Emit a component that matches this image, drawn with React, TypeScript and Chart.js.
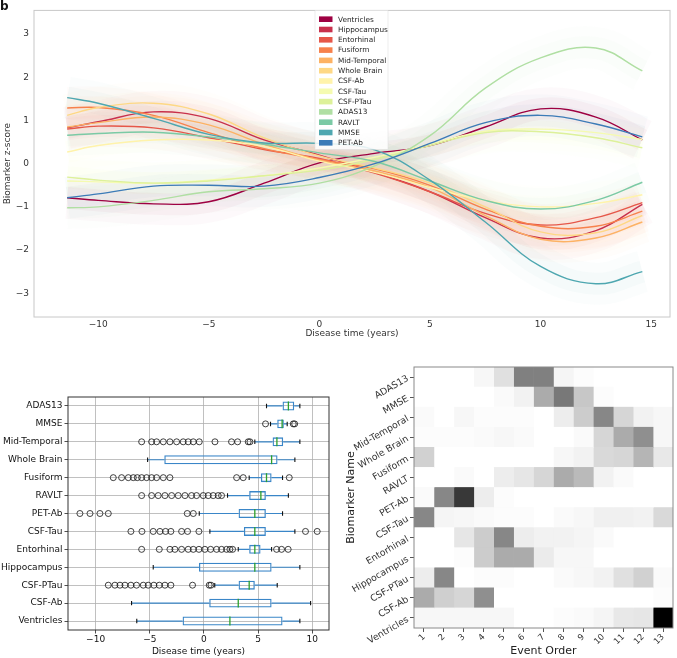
import React, { useEffect, useRef } from 'react';
import { Chart, registerables } from 'chart.js';

Chart.register(...registerables);

const FONT = "'DejaVu Sans', 'Liberation Sans', sans-serif";

// ---------------- Panel 1: biomarker trajectories ----------------
const BIOMARKERS = ['Ventricles', 'Hippocampus', 'Entorhinal', 'Fusiform', 'Mid-Temporal', 'Whole Brain', 'CSF-Ab', 'CSF-Tau', 'CSF-PTau', 'ADAS13', 'RAVLT', 'MMSE', 'PET-Ab'];
const LINE_COLORS = ['#9e0142', '#c8304c', '#e65749', '#f7814c', '#fdb264', '#fed885', '#fff3ab', '#f5fbb0', '#ddf19a', '#b0dfa3', '#7bcaa5', '#4ea7b0', '#3c7bb7'];
const TIME_YEARS = [-11.4, -10, -7.5, -5, -2.5, 0, 2.5, 5, 7.5, 10, 12.5, 14.6];
const Z_VENTRICLES = [-0.79, -0.85, -0.93, -0.88, -0.45, 0.02, 0.24, 0.42, 0.85, 1.27, 1.08, 0.55];
const Z_HIPPOCAMPUS = [0.83, 0.97, 1.2, 1.05, 0.55, 0.2, -0.2, -0.65, -1.25, -1.72, -1.55, -0.94];
const Z_ENTORHINAL = [0.8, 0.87, 0.83, 0.6, 0.33, 0.12, -0.22, -0.65, -1.15, -1.42, -1.25, -0.9];
const Z_FUSIFORM = [1.29, 1.3, 1.12, 0.72, 0.35, 0.1, -0.12, -0.5, -1.05, -1.45, -1.45, -1.1];
const Z_MID_TEMPORAL = [0.85, 0.95, 1.08, 0.9, 0.45, 0.08, -0.17, -0.55, -1.2, -1.75, -1.72, -1.35];
const Z_WHOLE_BRAIN = [1.12, 1.3, 1.4, 1.15, 0.6, 0.18, -0.1, -0.45, -1.0, -1.58, -1.6, -1.2];
const Z_CSF_AB = [0.27, 0.42, 0.55, 0.55, 0.4, 0.06, -0.2, -0.55, -0.85, -1.0, -0.92, -0.72];
const Z_CSF_TAU = [-0.4, -0.42, -0.45, -0.38, -0.28, -0.1, 0.15, 0.45, 0.75, 0.8, 0.72, 0.56];
const Z_CSF_PTAU = [-0.31, -0.38, -0.45, -0.4, -0.28, -0.15, 0.1, 0.42, 0.72, 0.74, 0.6, 0.37];
const Z_ADAS13 = [-1.02, -1.0, -0.85, -0.65, -0.58, -0.45, -0.05, 0.65, 1.75, 2.45, 2.68, 2.15];
const Z_RAVLT = [0.66, 0.7, 0.73, 0.62, 0.45, 0.25, 0.05, -0.4, -0.85, -1.05, -0.85, -0.43];
const Z_MMSE = [1.53, 1.4, 1.05, 0.68, 0.48, 0.47, 0.32, -0.38, -1.35, -2.38, -2.78, -2.5];
const Z_PET_AB = [-0.79, -0.7, -0.52, -0.5, -0.52, -0.32, 0.0, 0.47, 0.95, 1.12, 0.92, 0.62];
const Z_SERIES = [Z_VENTRICLES, Z_HIPPOCAMPUS, Z_ENTORHINAL, Z_FUSIFORM, Z_MID_TEMPORAL, Z_WHOLE_BRAIN, Z_CSF_AB, Z_CSF_TAU, Z_CSF_PTAU, Z_ADAS13, Z_RAVLT, Z_MMSE, Z_PET_AB];
const TIME_TICKS = [-10, -5, 0, 5, 10, 15];
const Z_TICKS = [-3, -2, -1, 0, 1, 2, 3];

// ---------------- Panel 2: box plots ----------------
const BOX_ROWS = ['ADAS13', 'MMSE', 'Mid-Temporal', 'Whole Brain', 'Fusiform', 'RAVLT', 'PET-Ab', 'CSF-Tau', 'Entorhinal', 'Hippocampus', 'CSF-PTau', 'CSF-Ab', 'Ventricles'];
const BOX_WHISKER_LOW = [5.78, 6.15, 4.7, -5.2, 4.18, 2.18, -0.43, 0.55, 3.17, -4.68, 1.0, -6.68, -6.2];
const BOX_Q1 = [7.26, 6.77, 6.34, -3.66, 5.26, 4.18, 3.2, 3.69, 4.18, -0.46, 3.2, 0.49, -1.97];
const BOX_MEDIAN = [7.8, 7.22, 6.74, 6.25, 5.78, 5.26, 4.7, 4.7, 4.7, 4.7, 4.18, 3.17, 2.4];
const BOX_Q3 = [8.34, 7.38, 7.32, 6.8, 6.25, 5.72, 5.72, 5.72, 5.23, 6.25, 4.7, 6.25, 7.26];
const BOX_WHISKER_HIGH = [8.86, 7.69, 8.86, 8.4, 7.26, 7.8, 7.26, 8.4, 6.25, 8.86, 6.77, 9.85, 8.86];
const OUT_ADAS13: number[] = [];
const OUT_MMSE = [5.69, 8.25, 8.38];
const OUT_MID_TEMPORAL = [-5.75, -4.83, -4.37, -3.75, -3.14, -2.52, -1.91, -1.45, -0.98, -0.43, 1.02, 2.55, 3.11, 4.09, 4.25];
const OUT_WHOLE_BRAIN: number[] = [];
const OUT_FUSIFORM = [-8.37, -7.6, -6.98, -6.52, -6.15, -5.75, -5.29, -4.83, -4.37, -3.75, -3.14, 3.02, 3.63, 7.88];
const OUT_RAVLT = [-5.75, -4.83, -4.22, -3.6, -2.98, -2.37, -1.75, -1.14, -0.68, -0.06, 0.4, 0.86, 1.32, 1.63];
const OUT_PET_AB = [-11.45, -10.52, -9.6, -8.83, -1.54, -0.98];
const OUT_CSF_TAU = [-6.74, -5.72, -4.68, -4.06, -3.54, -3.05, -2.06, -1.51, -0.46, 9.38, 10.46];
const OUT_ENTORHINAL = [-5.75, -4.12, -3.14, -2.68, -2.06, -1.45, -0.98, -0.46, 0.09, 0.62, 1.17, 1.63, 2.09, 2.4, 2.65, 6.71, 7.17, 7.78];
const OUT_HIPPOCAMPUS: number[] = [];
const OUT_CSF_PTAU = [-8.83, -8.22, -7.75, -7.29, -6.74, -6.22, -5.6, -5.14, -4.62, -4.12, -3.6, -3.05, -1.05, 0.49, 0.65];
const OUT_CSF_AB: number[] = [];
const OUT_VENTRICLES: number[] = [];
const BOX_OUTLIERS = [OUT_ADAS13, OUT_MMSE, OUT_MID_TEMPORAL, OUT_WHOLE_BRAIN, OUT_FUSIFORM, OUT_RAVLT, OUT_PET_AB, OUT_CSF_TAU, OUT_ENTORHINAL, OUT_HIPPOCAMPUS, OUT_CSF_PTAU, OUT_CSF_AB, OUT_VENTRICLES];
const BOX_TICKS = [-10, -5, 0, 5, 10];

// ---------------- Panel 3: event-order positional variance ----------------
const EVENT_ORDER = [1, 2, 3, 4, 5, 6, 7, 8, 9, 10, 11, 12, 13];
const HEAT_ADAS13 = [0, 0, 0, 0.03, 0.12, 0.5, 0.5, 0.04, 0.01, 0, 0, 0, 0];
const HEAT_MMSE = [0, 0, 0, 0, 0.02, 0.05, 0.33, 0.53, 0.22, 0.01, 0, 0, 0];
const HEAT_MID_TEMPORAL = [0.02, 0, 0.03, 0.01, 0.01, 0.01, 0, 0.07, 0.2, 0.47, 0.16, 0.05, 0.03];
const HEAT_WHOLE_BRAIN = [0.01, 0.01, 0.01, 0.02, 0.03, 0.02, 0, 0, 0.02, 0.16, 0.33, 0.44, 0.03];
const HEAT_FUSIFORM = [0.18, 0, 0, 0, 0, 0, 0, 0.03, 0.05, 0.15, 0.16, 0.29, 0.09];
const HEAT_RAVLT = [0, 0, 0.02, 0, 0.07, 0.1, 0.16, 0.33, 0.27, 0.05, 0.02, 0, 0];
const HEAT_PET_AB = [0.02, 0.47, 0.78, 0.07, 0.01, 0, 0, 0, 0, 0, 0, 0, 0];
const HEAT_CSF_TAU = [0.47, 0.04, 0.03, 0.02, 0.01, 0.01, 0, 0.02, 0.03, 0.06, 0.06, 0.05, 0.15];
const HEAT_ENTORHINAL = [0, 0, 0.1, 0.2, 0.47, 0.07, 0.05, 0.05, 0.04, 0.02, 0, 0, 0];
const HEAT_HIPPOCAMPUS = [0, 0, 0.01, 0.2, 0.33, 0.33, 0.08, 0.03, 0.03, 0, 0, 0, 0];
const HEAT_CSF_PTAU = [0.07, 0.47, 0, 0.01, 0.01, 0, 0, 0.02, 0.03, 0.05, 0.12, 0.18, 0.02];
const HEAT_CSF_AB = [0.33, 0.19, 0.16, 0.44, 0, 0, 0, 0, 0, 0, 0, 0, 0.01];
const HEAT_VENTRICLES = [0.03, 0.03, 0.03, 0.03, 0.03, 0, 0, 0.01, 0.02, 0.04, 0.09, 0.1, 1.0];
const HEAT_MATRIX = [HEAT_ADAS13, HEAT_MMSE, HEAT_MID_TEMPORAL, HEAT_WHOLE_BRAIN, HEAT_FUSIFORM, HEAT_RAVLT, HEAT_PET_AB, HEAT_CSF_TAU, HEAT_ENTORHINAL, HEAT_HIPPOCAMPUS, HEAT_CSF_PTAU, HEAT_CSF_AB, HEAT_VENTRICLES];

// ---------------- helpers ----------------
const rgba = (hex: string, a: number) => {
  const n = parseInt(hex.slice(1), 16);
  return `rgba(${(n >> 16) & 255},${(n >> 8) & 255},${n & 255},${a})`;
};
const grey = (v: number) => {
  const g = Math.round(255 * (1 - v));
  return `rgb(${g},${g},${g})`;
};
const fmtMinus = (v: number) => (v < 0 ? '\u2212' + Math.abs(v) : String(v));
const fixedTicks = (values: number[]) => (scale: any) => {
  scale.ticks = values.map((v) => ({ value: v }));
};

const framePlugin = (color: string, width: number) => ({
  id: 'frame',
  afterDraw(chart: any) {
    const { ctx, chartArea: a } = chart;
    ctx.save();
    ctx.strokeStyle = color;
    ctx.lineWidth = width;
    ctx.strokeRect(a.left, a.top, a.right - a.left, a.bottom - a.top);
    ctx.restore();
  },
});

// ---------- Panel 1 config ----------
function trajectoryConfig(): any {
  const datasets: any[] = [];
  BIOMARKERS.forEach((name, i) => {
    const pts = TIME_YEARS.map((t, k) => ({ x: t, y: Z_SERIES[i][k] }));
    datasets.push({ label: '_cloudA', data: pts, borderColor: rgba(LINE_COLORS[i], 0.022), borderWidth: 42, pointRadius: 0, tension: 0.4, order: 20, borderJoinStyle: 'round' });
    datasets.push({ label: '_cloudB', data: pts, borderColor: rgba(LINE_COLORS[i], 0.035), borderWidth: 22, pointRadius: 0, tension: 0.4, order: 15, borderJoinStyle: 'round' });
  });
  BIOMARKERS.forEach((name, i) => {
    datasets.push({
      label: name,
      data: TIME_YEARS.map((t, k) => ({ x: t, y: Z_SERIES[i][k] })),
      borderColor: LINE_COLORS[i],
      backgroundColor: LINE_COLORS[i],
      borderWidth: 1.4,
      pointRadius: 0,
      tension: 0.4,
      order: BIOMARKERS.length - i,
    });
  });

  const legendPlugin = {
    id: 'insideLegend',
    afterDraw(chart: any) {
      const { ctx, chartArea: a } = chart;
      const items = chart.data.datasets.filter((d: any) => !d.label.startsWith('_'));
      const x0 = a.left + 281;
      const y0 = a.top;
      ctx.save();
      ctx.fillStyle = 'rgba(255,255,255,0.85)';
      ctx.fillRect(x0, y0, 73, 139);
      ctx.strokeStyle = 'rgba(220,220,220,0.8)';
      ctx.lineWidth = 0.6;
      ctx.strokeRect(x0, y0, 73, 139);
      ctx.font = `7.3px ${FONT}`;
      ctx.textBaseline = 'middle';
      ctx.textAlign = 'left';
      items.forEach((d: any, i: number) => {
        const y = y0 + 8.8 + i * 10.3;
        ctx.fillStyle = d.borderColor;
        ctx.fillRect(x0 + 4, y - 2.8, 13.5, 5.6);
        ctx.fillStyle = '#262626';
        ctx.fillText(d.label, x0 + 23, y + 0.5);
      });
      ctx.restore();
    },
  };

  return {
    type: 'line',
    data: { datasets },
    options: {
      animation: false,
      responsive: false,
      devicePixelRatio: 1,
      layout: { padding: { top: 2, right: 7, left: 0, bottom: 0 } },
      plugins: { legend: { display: false }, tooltip: { enabled: false } },
      scales: {
        x: {
          type: 'linear',
          min: -12.9,
          max: 15.85,
          afterBuildTicks: fixedTicks(TIME_TICKS),
          afterFit: (s: any) => { s.height = 23; },
          grid: { display: false, drawTicks: false },
          border: { display: false },
          ticks: { callback: (v: any) => fmtMinus(v), font: { family: FONT, size: 9 }, color: '#333', padding: 2, maxRotation: 0 },
          title: { display: true, text: 'Disease time (years)', font: { family: FONT, size: 9 }, color: '#333', padding: { top: 0, bottom: 1 } },
        },
        y: {
          type: 'linear',
          min: -3.55,
          max: 3.55,
          afterBuildTicks: fixedTicks(Z_TICKS),
          afterFit: (s: any) => { s.width = 34; },
          grid: { display: false, drawTicks: false },
          border: { display: false },
          ticks: { callback: (v: any) => fmtMinus(v), font: { family: FONT, size: 9 }, color: '#333', padding: 5 },
          title: { display: true, text: 'Biomarker z-score', font: { family: FONT, size: 9 }, color: '#333', padding: { top: 2, bottom: 0 } },
        },
      },
    },
    plugins: [framePlugin('#c8c8c8', 1), legendPlugin],
  };
}

// ---------- Panel 2 config ----------
const BOX_BLUE = '#3a86c8';
function boxConfig(): any {
  const outlierPoints: any[] = [];
  BOX_OUTLIERS.forEach((arr, i) => arr.forEach((v) => outlierPoints.push({ x: v, y: BOX_ROWS[i] })));

  const whiskerPlugin = {
    id: 'whiskers',
    afterDatasetsDraw(chart: any) {
      const { ctx } = chart;
      const xs = chart.scales.x;
      const ys = chart.scales.y;
      const band = Math.abs(ys.getPixelForValue(1) - ys.getPixelForValue(0));
      const boxH = band * 0.5;
      const capH = band * 0.25;
      ctx.save();
      BOX_ROWS.forEach((_, i) => {
        const cy = ys.getPixelForValue(i);
        const wl = xs.getPixelForValue(BOX_WHISKER_LOW[i]);
        const q1 = xs.getPixelForValue(BOX_Q1[i]);
        const q3 = xs.getPixelForValue(BOX_Q3[i]);
        const wh = xs.getPixelForValue(BOX_WHISKER_HIGH[i]);
        const md = xs.getPixelForValue(BOX_MEDIAN[i]);
        ctx.strokeStyle = BOX_BLUE;
        ctx.lineWidth = 1.2;
        ctx.beginPath();
        ctx.moveTo(wl, cy); ctx.lineTo(q1, cy);
        ctx.moveTo(q3, cy); ctx.lineTo(wh, cy);
        ctx.stroke();
        ctx.strokeStyle = '#111';
        ctx.lineWidth = 1.1;
        ctx.beginPath();
        ctx.moveTo(wl, cy - capH / 2); ctx.lineTo(wl, cy + capH / 2);
        ctx.moveTo(wh, cy - capH / 2); ctx.lineTo(wh, cy + capH / 2);
        ctx.stroke();
        ctx.strokeStyle = '#2ca02c';
        ctx.lineWidth = 1.3;
        ctx.beginPath();
        ctx.moveTo(md, cy - boxH / 2); ctx.lineTo(md, cy + boxH / 2);
        ctx.stroke();
      });
      ctx.restore();
    },
  };

  return {
    type: 'bar',
    data: {
      labels: BOX_ROWS,
      datasets: [
        {
          label: 'IQR',
          data: BOX_ROWS.map((_, i) => [BOX_Q1[i], BOX_Q3[i]]),
          backgroundColor: 'rgba(255,255,255,0)',
          borderColor: BOX_BLUE,
          borderWidth: 1.3,
          borderSkipped: false,
          barPercentage: 0.5,
          categoryPercentage: 1,
          order: 2,
        },
        {
          type: 'scatter',
          label: 'Outliers',
          data: outlierPoints,
          pointRadius: 3,
          pointStyle: 'circle',
          borderColor: '#111',
          borderWidth: 0.8,
          backgroundColor: 'rgba(0,0,0,0)',
          order: 1,
        },
      ],
    },
    options: {
      animation: false,
      responsive: false,
      devicePixelRatio: 1,
      indexAxis: 'y',
      layout: { padding: { top: 57, right: 11, left: 0, bottom: 0 } },
      plugins: { legend: { display: false }, tooltip: { enabled: false } },
      scales: {
        x: {
          type: 'linear',
          min: -12.55,
          max: 11.55,
          afterBuildTicks: fixedTicks(BOX_TICKS),
          afterFit: (s: any) => { s.height = 28; },
          grid: { color: '#b0b0b0', lineWidth: 0.8, tickColor: '#222', tickLength: 3.5 },
          border: { display: false },
          ticks: { callback: (v: any) => fmtMinus(v), font: { family: FONT, size: 9 }, color: '#111', padding: 1, maxRotation: 0 },
          title: { display: true, text: 'Disease time (years)', font: { family: FONT, size: 9 }, color: '#111', padding: { top: 0, bottom: 1 } },
        },
        y: {
          type: 'category',
          offset: true,
          afterFit: (s: any) => { s.width = 68; },
          grid: { offset: false, color: '#b0b0b0', lineWidth: 0.8, tickColor: '#222', tickLength: 3.5 },
          border: { display: false },
          ticks: { font: { family: FONT, size: 9 }, color: '#111', padding: 2 },
        },
      },
    },
    plugins: [whiskerPlugin, framePlugin('#333', 1)],
  };
}

// ---------- Panel 3 config ----------
function heatConfig(): any {
  const datasets = EVENT_ORDER.map((ev, c) => ({
    label: 'Event ' + ev,
    data: BOX_ROWS.map(() => [ev - 0.5, ev + 0.5]),
    backgroundColor: HEAT_MATRIX.map((row) => grey(row[c])),
    borderWidth: 0,
    barPercentage: 1,
    categoryPercentage: 1,
    grouped: false,
  }));

  const rotatedLabels = {
    id: 'rotatedLabels',
    afterDraw(chart: any) {
      const { ctx, chartArea: a } = chart;
      const ys = chart.scales.y;
      ctx.save();
      ctx.font = `9.3px ${FONT}`;
      ctx.fillStyle = '#333';
      ctx.textAlign = 'right';
      ctx.textBaseline = 'middle';
      ys.getLabels().forEach((lab: string, i: number) => {
        const y = ys.getPixelForValue(i);
        ctx.save();
        ctx.translate(a.left - 6, y + 1);
        ctx.rotate(-Math.PI / 6);
        ctx.fillText(lab, 0, 0);
        ctx.restore();
      });
      ctx.restore();
    },
  };

  return {
    type: 'bar',
    data: { labels: BOX_ROWS, datasets },
    options: {
      animation: false,
      responsive: false,
      devicePixelRatio: 1,
      indexAxis: 'y',
      layout: { padding: { top: 27, right: 4, left: 0, bottom: 0 } },
      plugins: { legend: { display: false }, tooltip: { enabled: false } },
      scales: {
        x: {
          type: 'linear',
          min: 0.5,
          max: 13.5,
          afterBuildTicks: fixedTicks(EVENT_ORDER),
          afterFit: (s: any) => { s.height = 30; },
          grid: { drawOnChartArea: false, tickColor: '#555', tickLength: 4 },
          border: { display: false },
          ticks: { font: { family: FONT, size: 8.5 }, color: '#333', minRotation: 45, maxRotation: 45, padding: 0 },
          title: { display: true, text: 'Event Order', font: { family: FONT, size: 11 }, color: '#222', padding: { top: 0, bottom: 0 } },
        },
        y: {
          type: 'category',
          offset: true,
          afterFit: (s: any) => { s.width = 74; },
          grid: { drawOnChartArea: false, offset: false, tickColor: '#555', tickLength: 4 },
          border: { display: false },
          ticks: { font: { family: FONT, size: 8 }, color: 'rgba(0,0,0,0)' },
          title: { display: true, text: 'Biomarker Name', font: { family: FONT, size: 11 }, color: '#222', padding: { top: 5, bottom: 0 } },
        },
      },
    },
    plugins: [rotatedLabels, framePlugin('#8a8a8a', 1)],
  };
}

function ChartCanvas({ make, left, top, width, height }: any) {
  const ref = useRef<HTMLCanvasElement | null>(null);
  useEffect(() => {
    const chart = new Chart(ref.current as HTMLCanvasElement, make());
    return () => chart.destroy();
  }, []);
  return <canvas ref={ref} width={width} height={height} style={{ position: 'absolute', left, top, width, height }} />;
}

export default function App() {
  return (
    <div style={{ position: 'absolute', left: 0, top: 0, width: 677, height: 658, background: '#fff', overflow: 'hidden' }}>
      <ChartCanvas make={trajectoryConfig} left={0} top={0} width={677} height={340} />
      <ChartCanvas make={boxConfig} left={0} top={340} width={340} height={318} />
      <ChartCanvas make={heatConfig} left={340} top={340} width={337} height={318} />
      <div style={{ position: 'absolute', left: 0, top: -1, fontFamily: FONT, fontWeight: 'bold', fontSize: 12, color: '#111' }}>b</div>
    </div>
  );
}
